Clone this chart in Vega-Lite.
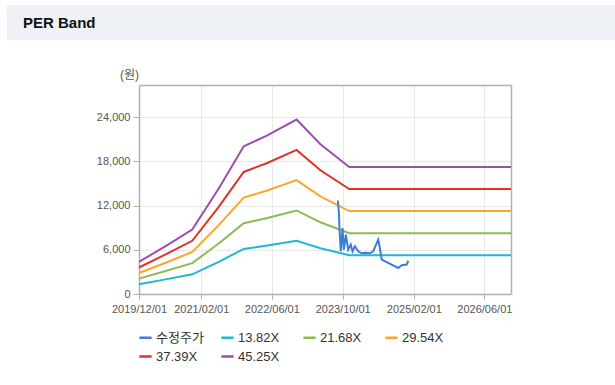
{
  "$schema": "https://vega.github.io/schema/vega-lite/v6.json",
  "background": "white",
  "padding": {"left": 7, "top": 5, "right": 0, "bottom": 0},
  "config": {
    "font": "Liberation Sans, Noto Sans CJK KR, sans-serif",
    "axis": {"gridColor": "#e8e8e8", "tickColor": "#b0b0b0", "labelColor": "#555", "labelFontSize": 11, "domainColor": "#b0b0b0", "domainWidth": 1.5}
  },
  "columns": 1,
  "spacing": 28,
  "concat": [
    {
      "width": 608,
      "height": 35,
      "data": {"values": [{"t": "PER Band"}]},
      "mark": {"type": "text", "align": "left", "baseline": "middle", "dx": -288, "fontSize": 15, "fontWeight": "bold", "color": "#111"},
      "encoding": {"text": {"field": "t"}},
      "view": {"fill": "#eef2f7", "stroke": null}
    },
    {
      "width": 504,
      "height": 209,
      "view": {"stroke": null},
      "data": {"values": [
        {"d": "2019/12/01", "s": "13.82X", "v": 1329},
        {"d": "2020/06/01", "s": "13.82X", "v": 1985},
        {"d": "2020/12/01", "s": "13.82X", "v": 2666},
        {"d": "2021/06/01", "s": "13.82X", "v": 4367},
        {"d": "2021/11/20", "s": "13.82X", "v": 6117},
        {"d": "2022/05/01", "s": "13.82X", "v": 6566},
        {"d": "2022/11/18", "s": "13.82X", "v": 7223},
        {"d": "2023/05/01", "s": "13.82X", "v": 6200},
        {"d": "2023/11/15", "s": "13.82X", "v": 5259},
        {"d": "2026/12/01", "s": "13.82X", "v": 5259},
        {"d": "2019/12/01", "s": "21.68X", "v": 2084},
        {"d": "2020/06/01", "s": "21.68X", "v": 3114},
        {"d": "2020/12/01", "s": "21.68X", "v": 4183},
        {"d": "2021/06/01", "s": "21.68X", "v": 6851},
        {"d": "2021/11/20", "s": "21.68X", "v": 9597},
        {"d": "2022/05/01", "s": "21.68X", "v": 10301},
        {"d": "2022/11/18", "s": "21.68X", "v": 11331},
        {"d": "2023/05/01", "s": "21.68X", "v": 9726},
        {"d": "2023/11/15", "s": "21.68X", "v": 8250},
        {"d": "2026/12/01", "s": "21.68X", "v": 8250},
        {"d": "2019/12/01", "s": "29.54X", "v": 2840},
        {"d": "2020/06/01", "s": "29.54X", "v": 4243},
        {"d": "2020/12/01", "s": "29.54X", "v": 5699},
        {"d": "2021/06/01", "s": "29.54X", "v": 9335},
        {"d": "2021/11/20", "s": "29.54X", "v": 13076},
        {"d": "2022/05/01", "s": "29.54X", "v": 14036},
        {"d": "2022/11/18", "s": "29.54X", "v": 15439},
        {"d": "2023/05/01", "s": "29.54X", "v": 13252},
        {"d": "2023/11/15", "s": "29.54X", "v": 11242},
        {"d": "2026/12/01", "s": "29.54X", "v": 11242},
        {"d": "2019/12/01", "s": "37.39X", "v": 3594},
        {"d": "2020/06/01", "s": "37.39X", "v": 5371},
        {"d": "2020/12/01", "s": "37.39X", "v": 7214},
        {"d": "2021/06/01", "s": "37.39X", "v": 11816},
        {"d": "2021/11/20", "s": "37.39X", "v": 16551},
        {"d": "2022/05/01", "s": "37.39X", "v": 17765},
        {"d": "2022/11/18", "s": "37.39X", "v": 19542},
        {"d": "2023/05/01", "s": "37.39X", "v": 16774},
        {"d": "2023/11/15", "s": "37.39X", "v": 14229},
        {"d": "2026/12/01", "s": "37.39X", "v": 14229},
        {"d": "2019/12/01", "s": "45.25X", "v": 4350},
        {"d": "2020/06/01", "s": "45.25X", "v": 6500},
        {"d": "2020/12/01", "s": "45.25X", "v": 8730},
        {"d": "2021/06/01", "s": "45.25X", "v": 14300},
        {"d": "2021/11/20", "s": "45.25X", "v": 20030},
        {"d": "2022/05/01", "s": "45.25X", "v": 21500},
        {"d": "2022/11/18", "s": "45.25X", "v": 23650},
        {"d": "2023/05/01", "s": "45.25X", "v": 20300},
        {"d": "2023/11/15", "s": "45.25X", "v": 17220},
        {"d": "2026/12/01", "s": "45.25X", "v": 17220},
        {"d": "2023/08/29", "s": "수정주가", "v": 12660},
        {"d": "2023/09/05", "s": "수정주가", "v": 11000},
        {"d": "2023/09/10", "s": "수정주가", "v": 8400},
        {"d": "2023/09/18", "s": "수정주가", "v": 5790},
        {"d": "2023/09/30", "s": "수정주가", "v": 8950},
        {"d": "2023/10/09", "s": "수정주가", "v": 6020},
        {"d": "2023/10/23", "s": "수정주가", "v": 8050},
        {"d": "2023/11/08", "s": "수정주가", "v": 6020},
        {"d": "2023/11/25", "s": "수정주가", "v": 6700},
        {"d": "2023/12/08", "s": "수정주가", "v": 5790},
        {"d": "2023/12/24", "s": "수정주가", "v": 6470},
        {"d": "2024/01/16", "s": "수정주가", "v": 5790},
        {"d": "2024/02/09", "s": "수정주가", "v": 5520},
        {"d": "2024/03/05", "s": "수정주가", "v": 5600},
        {"d": "2024/04/05", "s": "수정주가", "v": 5520},
        {"d": "2024/04/28", "s": "수정주가", "v": 5790},
        {"d": "2024/06/01", "s": "수정주가", "v": 7370},
        {"d": "2024/06/13", "s": "수정주가", "v": 6240},
        {"d": "2024/06/25", "s": "수정주가", "v": 4660},
        {"d": "2024/08/09", "s": "수정주가", "v": 4210},
        {"d": "2024/09/25", "s": "수정주가", "v": 3760},
        {"d": "2024/10/17", "s": "수정주가", "v": 3530},
        {"d": "2024/11/10", "s": "수정주가", "v": 3890},
        {"d": "2024/12/14", "s": "수정주가", "v": 3990},
        {"d": "2024/12/25", "s": "수정주가", "v": 4530}
      ]},
      "resolve": {"axis": {"x": "independent", "y": "independent"}},
      "layer": [
        {
          "transform": [{"filter": "datum.s !== '수정주가'"}],
          "mark": {"type": "line", "strokeWidth": 2},
          "encoding": {
            "x": {
              "field": "d", "type": "temporal",
              "scale": {"domain": [{"year": 2019, "month": 12, "date": 1}, {"year": 2026, "month": 12, "date": 1}], "range": [132, 504]},
              "axis": {
                "title": null, "format": "%Y/%m/%d", "labelOverlap": false, "labelFlush": false,
                "values": [
                  {"year": 2019, "month": 12, "date": 1},
                  {"year": 2021, "month": 2, "date": 1},
                  {"year": 2022, "month": 6, "date": 1},
                  {"year": 2023, "month": 10, "date": 1},
                  {"year": 2025, "month": 2, "date": 1},
                  {"year": 2026, "month": 6, "date": 1}
                ],
                "tickSize": 5, "labelPadding": 4
              }
            },
            "y": {
              "field": "v", "type": "quantitative",
              "scale": {"domain": [0, 28340], "nice": false},
              "axis": {
                "values": [0, 6000, 12000, 18000, 24000], "format": ",d",
                "tickSize": 6, "labelPadding": 3, "offset": -132,
                "title": "(원)", "titleAngle": 0, "titleX": -10, "titleY": -11,
                "titleAlign": "center", "titleBaseline": "middle",
                "titleFontSize": 12, "titleFontWeight": "normal", "titleColor": "#555"
              }
            },
            "color": {
              "field": "s", "type": "nominal",
              "scale": {
                "domain": ["수정주가", "13.82X", "21.68X", "29.54X", "37.39X", "45.25X"],
                "range": ["#3b7dd8", "#1fb9cc", "#8dba55", "#f9a72b", "#e2302b", "#9a4fa8"]
              },
              "legend": {
                "title": null, "orient": "none", "legendX": 131, "legendY": 325, "direction": "horizontal", "columns": 4,
                "symbolType": "stroke", "symbolStrokeWidth": 2.5, "symbolSize": 150,
                "labelFontSize": 13, "labelColor": "#333", "gridAlign": "all",
                "columnPadding": 12, "rowPadding": 4, "labelOffset": 3
              }
            }
          }
        },
        {
          "transform": [{"filter": "datum.s === '수정주가'"}],
          "mark": {"type": "line", "strokeWidth": 2},
          "encoding": {
            "x": {
              "field": "d", "type": "temporal",
              "scale": {"domain": [{"year": 2019, "month": 12, "date": 1}, {"year": 2026, "month": 12, "date": 1}], "range": [132, 504]},
              "axis": {"orient": "top", "title": null, "labels": false, "ticks": false, "grid": false, "domain": true}
            },
            "y": {
              "field": "v", "type": "quantitative",
              "scale": {"domain": [0, 28340], "nice": false},
              "axis": {"orient": "right", "title": null, "labels": false, "ticks": false, "grid": false, "domain": true}
            },
            "color": {"field": "s", "type": "nominal"}
          }
        }
      ]
    }
  ]
}
